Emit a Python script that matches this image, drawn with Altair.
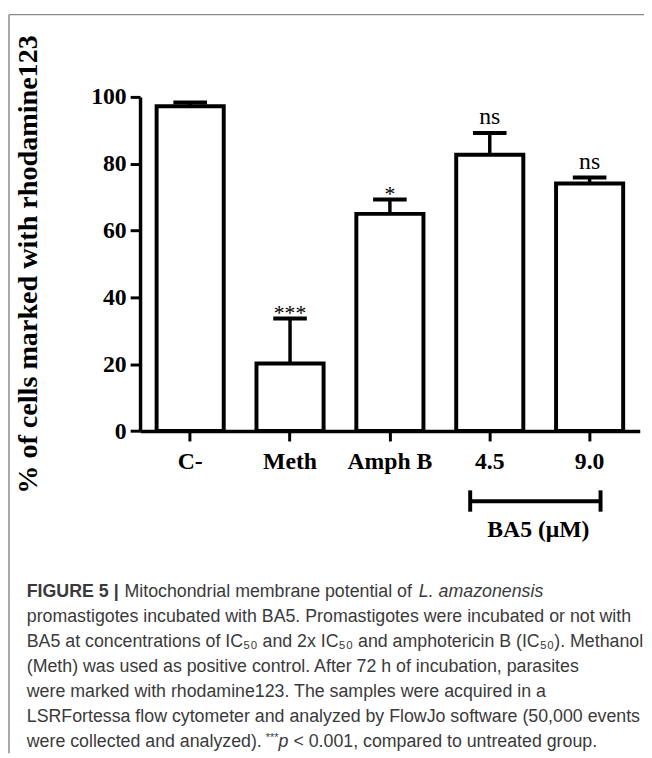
import altair as alt
import pandas as pd

# ---------------- data ----------------
categories = ["C-", "Meth", "Amph B", "4.5", "9.0"]
means = [97.2, 20.2, 65.0, 82.7, 74.1]
errors = [1.1, 13.5, 4.3, 6.5, 1.8]
sig_labels = ["", "***", "*", "ns", "ns"]
y_ticks = [0, 20, 40, 60, 80, 100]
y_title = "% of cells marked with rhodamine123"
group_label = "BA5 (μM)"

cap_bold = "FIGURE 5 |"
cap_line1 = "Mitochondrial membrane potential of"
cap_line1_it = "L. amazonensis"
caption_lines = [
    "promastigotes incubated with BA5. Promastigotes were incubated or not with",
    "BA5 at concentrations of IC₅₀ and 2x IC₅₀ and amphotericin B (IC₅₀). Methanol",
    "(Meth) was used as positive control. After 72 h of incubation, parasites",
    "were marked with rhodamine123. The samples were acquired in a",
    "LSRFortessa flow cytometer and analyzed by FlowJo software (50,000 events",
]
cap_last_a = "were collected and analyzed)."
cap_last_star = "***"
cap_last_p = "p"
cap_last_b = "< 0.001, compared to untreated group."

df = pd.DataFrame({"cat": categories, "mean": means, "err": errors, "sig": sig_labels})
df["upper"] = df["mean"] + df["err"]

# ---------------- layout ----------------
OX, OY = 141.7, 93.3          # page position of plot origin
W, H = 506, 338.4
TOTAL_W, TOTAL_H = 644, 750


def px(x):
    return x - OX


def py(y):
    return y - OY


SERIF = "Liberation Serif"
SANS = "Liberation Sans"
CAP_COLOR = "#3a3a3a"

xs = alt.Scale(domain=categories, paddingInner=0.328, paddingOuter=0.166)
ys = alt.Scale(domain=[0, 100], nice=False)

xenc = alt.X("cat:N", scale=xs, sort=categories,
             axis=alt.Axis(title=None, labelAngle=0, labelPadding=9))
yenc_axis = alt.Y("mean:Q", scale=ys,
                  axis=alt.Axis(title=None, values=y_ticks, labelPadding=4))

base = alt.Chart(df)

bars = base.mark_bar(fill="white", stroke="black", strokeWidth=4, opacity=1).encode(
    x=xenc, y=yenc_axis
)
err_rule = base.mark_rule(color="black", strokeWidth=3.5).encode(
    x=alt.X("cat:N", scale=xs, sort=categories),
    y=alt.Y("mean:Q", scale=ys),
    y2="upper:Q",
)
caps = base.mark_tick(orient="horizontal", size=34, thickness=4, color="black", opacity=1).encode(
    x=alt.X("cat:N", scale=xs, sort=categories),
    y=alt.Y("upper:Q", scale=ys),
)
stars = base.transform_filter("indexof(datum.sig, '*') >= 0").mark_text(
    font=SERIF, fontSize=22, color="black", baseline="alphabetic", dy=2
).encode(
    x=alt.X("cat:N", scale=xs, sort=categories),
    y=alt.Y("upper:Q", scale=ys),
    text="sig:N",
)
ns = base.transform_filter("datum.sig == 'ns'").mark_text(
    font=SERIF, fontSize=24, color="black", baseline="alphabetic", dy=-9
).encode(
    x=alt.X("cat:N", scale=xs, sort=categories),
    y=alt.Y("upper:Q", scale=ys),
    text="sig:N",
)


def one():
    return alt.Chart(pd.DataFrame({"k": [0]}))


def hrule(x1, x2, y, color="black", width=4):
    return one().mark_rule(color=color, strokeWidth=width).encode(
        x=alt.value(px(x1)), x2=alt.value(px(x2)), y=alt.value(py(y))
    )


def vrule(x, y1, y2, color="black", width=4):
    return one().mark_rule(color=color, strokeWidth=width).encode(
        x=alt.value(px(x)), y=alt.value(py(y1)), y2=alt.value(py(y2))
    )


def txt(s, x, y, **kw):
    return one().mark_text(text=s, **kw).encode(x=alt.value(px(x)), y=alt.value(py(y)))


layers = [bars, err_rule, caps, stars, ns]

# bracket under BA5 groups
layers += [
    hrule(476, 608, 502.7),
    vrule(476, 491.7, 513.3),
    vrule(608, 491.7, 513.3),
    txt(group_label, 545, 532, font=SERIF, fontSize=24, fontWeight="bold",
        align="center", baseline="middle", color="black"),
]

# y title
layers.append(txt(y_title, 28, 263, font=SERIF, fontSize=28.5, fontWeight="bold",
                  angle=270, align="center", baseline="middle", color="black"))

# frame lines
layers += [
    hrule(9, 652, 10, color="#8a8a8a", width=1.5),
    vrule(9, 10, 758, color="#8a8a8a", width=1.5),
]

# caption
cap_kw = dict(font=SANS, fontSize=18, align="left", baseline="alphabetic", color=CAP_COLOR)
base_y = 600
step = 25.3
layers += [
    txt(cap_bold, 27, base_y, fontWeight="bold", **cap_kw),
    txt(cap_line1, 126, base_y, **cap_kw),
    txt(cap_line1_it, 424, base_y, fontStyle="italic", **cap_kw),
]
for i, line in enumerate(caption_lines):
    layers.append(txt(line, 27, base_y + step * (i + 1), **cap_kw))
last_y = base_y + step * 6
layers += [
    txt(cap_last_a, 27, last_y, **cap_kw),
    txt(cap_last_star, 269, last_y - 6,
        **{**cap_kw, "fontSize": 11}),
    txt(cap_last_p, 282, last_y, fontStyle="italic", **cap_kw),
    txt(cap_last_b, 297, last_y, **cap_kw),
]

chart = alt.layer(*layers).properties(
    width=W,
    height=H,
    autosize=alt.AutoSizeParams(type="none"),
    padding={"left": OX - 8, "top": OY - 8,
             "right": TOTAL_W - (OX - 8) - W, "bottom": TOTAL_H - (OY - 8) - H},
).configure_view(stroke=None).configure_axis(
    grid=False,
    domainColor="black",
    domainWidth=3.5,
    tickColor="black",
    tickWidth=3,
    tickSize=10,
    labelFont=SERIF,
    labelFontWeight="bold",
    labelFontSize=24,
    labelColor="black",
)

chart.save("out.html", embed_options={"renderer": "svg", "actions": False})
